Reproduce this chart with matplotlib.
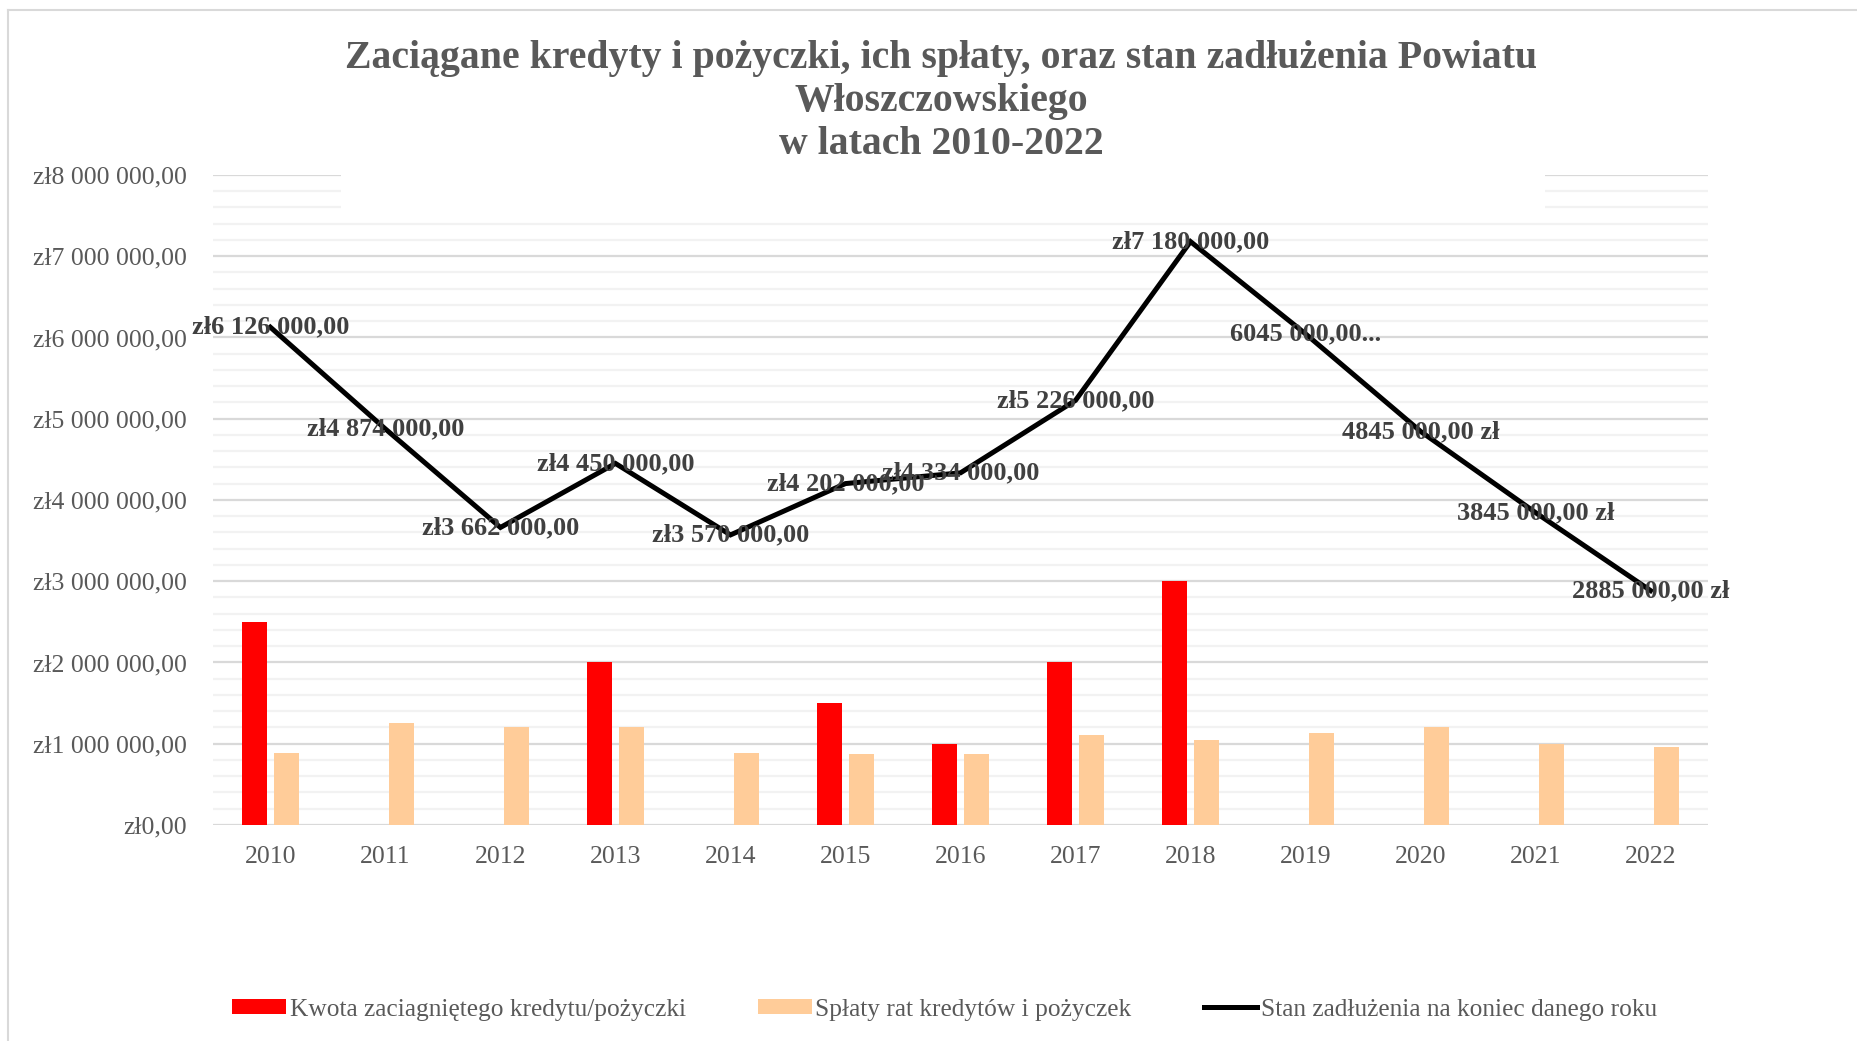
import matplotlib
matplotlib.use("Agg")
import matplotlib.pyplot as plt
from matplotlib.patches import Rectangle, Patch
from matplotlib.lines import Line2D
from matplotlib.ticker import MultipleLocator, FixedLocator
import numpy as np

# ---------------- data ----------------
years = ["2010", "2011", "2012", "2013", "2014", "2015", "2016",
         "2017", "2018", "2019", "2020", "2021", "2022"]
kredyty = [2500000, 0, 0, 2000000, 0, 1500000, 1000000,
           2000000, 3000000, 0, 0, 0, 0]
splaty = [880000, 1252000, 1212000, 1212000, 880000, 868000, 868000,
          1108000, 1046000, 1135000, 1200000, 1000000, 960000]
zadluzenie = [6126000, 4874000, 3662000, 4450000, 3570000, 4202000, 4334000,
              5226000, 7180000, 6045000, 4845000, 3845000, 2885000]
etykiety = ["zł6 126 000,00", "zł4 874 000,00", "zł3 662 000,00",
            "zł4 450 000,00", "zł3 570 000,00", "zł4 202 000,00",
            "zł4 334 000,00", "zł5 226 000,00", "zł7 180 000,00",
            "6045 000,00...", "4845 000,00 zł", "3845 000,00 zł",
            "2885 000,00 zł"]
y_ticks = [0, 1000000, 2000000, 3000000, 4000000,
           5000000, 6000000, 7000000, 8000000]
y_tick_labels = ["zł0,00", "zł1 000 000,00", "zł2 000 000,00",
                 "zł3 000 000,00", "zł4 000 000,00", "zł5 000 000,00",
                 "zł6 000 000,00", "zł7 000 000,00", "zł8 000 000,00"]
series_names = ["Kwota zaciagniętego kredytu/pożyczki",
                "Spłaty rat kredytów i pożyczek",
                "Stan zadłużenia na koniec danego roku"]
title = ("Zaciągane kredyty i pożyczki, ich spłaty, oraz stan zadłużenia Powiatu\n"
         "Włoszczowskiego\n"
         "w latach 2010-2022")

# ---------------- style ----------------
FONT = ["Liberation Serif", "DejaVu Serif"]
plt.rcParams['font.family'] = FONT
TXT_GRAY = "#595959"
LBL_GRAY = "#404040"
RED = "#FF0000"
PEACH = "#FFCC99"

fig = plt.figure(figsize=(18.58, 10.41), dpi=100)
ax = fig.add_axes([0.1146, 0.2075, 0.8047, 0.6244])

x = np.arange(len(years))
bw = 0.22
off = 0.14
ax.bar(x - off, kredyty, width=bw, color=RED, zorder=2)
ax.bar(x + off, splaty, width=bw, color=PEACH, zorder=2)
ax.plot(x, zadluzenie, color="black", lw=3.6, zorder=3,
        solid_joinstyle="miter")

for xi, yi, t in zip(x, zadluzenie, etykiety):
    ax.text(xi, yi, t, ha="center", va="center", fontsize=19,
            fontweight="bold", color=LBL_GRAY, zorder=4)

ax.set_xlim(-0.5, len(years) - 0.5)
ax.set_ylim(0, 8000000)
ax.set_xticks(x)
ax.set_xticklabels(years)
ax.yaxis.set_major_locator(FixedLocator(y_ticks))
ax.set_yticklabels(y_tick_labels)
ax.yaxis.set_minor_locator(MultipleLocator(200000))
ax.tick_params(axis="both", which="both", length=0, colors=TXT_GRAY,
               labelsize=18.5)
ax.tick_params(axis="y", pad=19)
ax.tick_params(axis="x", pad=15)
ax.grid(axis="y", which="major", color="#d9d9d9", lw=1.6, zorder=0)
ax.grid(axis="y", which="minor", color="#f2f2f2", lw=1.6, zorder=0)
ax.set_axisbelow(True)
for s in ax.spines.values():
    s.set_visible(False)

# white title box covering gridlines (as in reference)
fig.patches.append(Rectangle((0.1835, 0.7935), 0.648, 0.177,
                             transform=fig.transFigure, facecolor="white",
                             edgecolor="none", zorder=1))
fig.text(0.5065, 0.9025, title, ha="center", va="center", fontsize=28.6,
         fontweight="bold", color=TXT_GRAY, linespacing=1.2, zorder=2)

# outer frame (light gray)
fig.add_artist(Line2D([0.0045, 1.0], [0.9905, 0.9905], transform=fig.transFigure,
                      color="#d9d9d9", lw=1.5))
fig.add_artist(Line2D([0.0045, 0.0045], [0.0, 0.9905], transform=fig.transFigure,
                      color="#d9d9d9", lw=1.5))

handles = [Patch(facecolor=RED, edgecolor="none"),
           Patch(facecolor=PEACH, edgecolor="none"),
           Line2D([], [], color="black", lw=3.6)]
leg = fig.legend(handles, series_names, loc="center", ncol=3,
                 bbox_to_anchor=(0.5085, 0.03), frameon=False,
                 fontsize=18.3, handlelength=2.1, handleheight=0.55,
                 handletextpad=0.15, columnspacing=2.85)
for t in leg.get_texts():
    t.set_color(TXT_GRAY)

fig.savefig("out.png", dpi=100, facecolor="white")
